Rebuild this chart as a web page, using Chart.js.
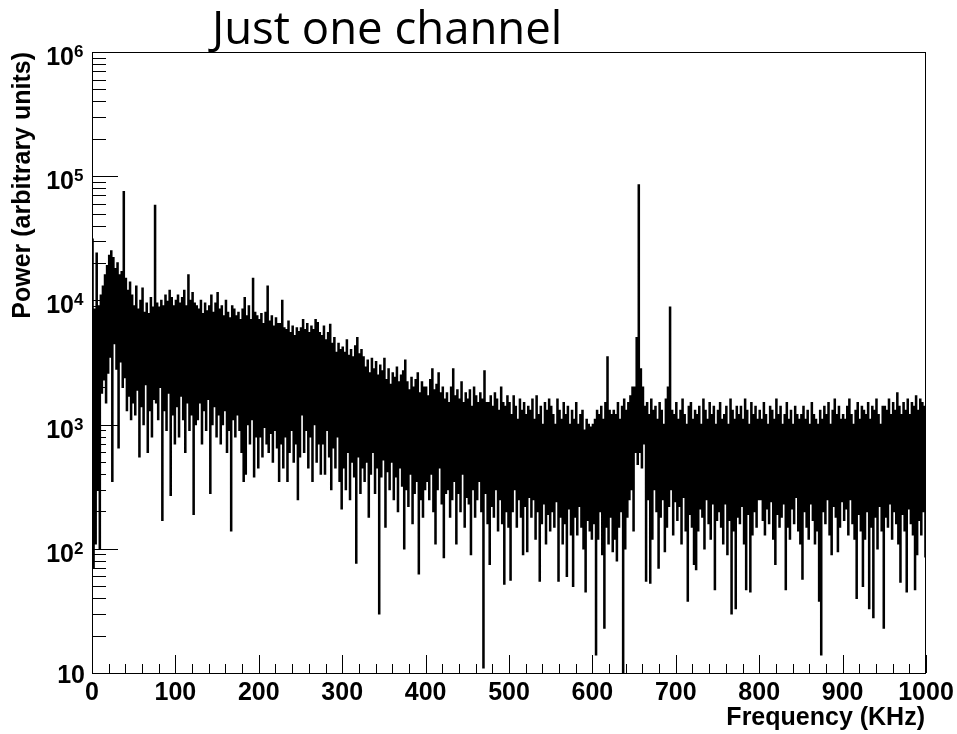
<!DOCTYPE html>
<html>
<head>
<meta charset="utf-8">
<title>Just one channel</title>
<script src="https://cdn.jsdelivr.net/npm/chart.js@4.4.1/dist/chart.umd.min.js"></script>
<style>
  html, body { margin: 0; padding: 0; background: #ffffff; }
  canvas { display: block; }
</style>
</head>
<body>
<canvas id="spectrum" width="957" height="734"></canvas>
<script>
// Spectrum of a single channel: each 2.5 kHz bin keeps the highest and
// lowest power seen inside it (arbitrary units).
const binWidthKHz = 2.5;

const powerHigh = [
  31000, 8500, 24000, 9000, 11000, 13000, 16000, 19000, 23000, 25000,
  22000, 18000, 20000, 16000, 17000, 75000, 15000, 12000, 14000, 11000,
  9000, 13000, 8500, 10000, 12500, 8000, 9500, 7800, 10500, 8800,
  58000, 9500, 8800, 10000, 9000, 11000, 9800, 12000, 10500, 9000,
  10000, 11000, 9500, 10500, 12000, 9000, 16000, 10000, 11500, 9500,
  9000, 8500, 10000, 7800, 9500, 8200, 9000, 11000, 8000, 9500,
  11500, 8500, 9000, 7500, 10000, 8000, 7200, 9000, 8500, 7500,
  8000, 7000, 8500, 10500, 7500, 9000, 7000, 15000, 8000, 7500,
  7000, 7800, 6500, 8000, 13000, 6800, 7500, 6200, 7200, 6500,
  6500, 10000, 6000, 5800, 6800, 5500, 6200, 5200, 6000, 5600,
  6000, 7000, 5800, 6500, 5500, 6200, 5800, 7000, 6600, 5500,
  5200, 6200, 4800, 5500, 6400, 4500, 5000, 3800, 4500, 4000,
  4200, 3800, 4800, 3600, 4000, 3500, 4300, 5000, 3700, 4000,
  3500, 2900, 3300, 2600, 3400, 2800, 3200, 2500, 3000, 2700,
  3400, 2300, 2800, 2100, 2600, 2400, 2900, 2200, 2500, 2700,
  3300, 2200, 1900, 2400, 2000, 2300, 2600, 1800, 2200, 2000,
  2000, 1700, 2300, 2800, 1900, 2100, 2600, 1800, 2000, 1600,
  1800, 1500, 2000, 2800, 1700, 1900, 1600, 2200, 1500, 1800,
  1600, 1900, 1400, 2000, 1700, 1500, 1800, 1600, 2700, 1500,
  1500, 1700, 1400, 1800, 1600, 1300, 2000, 1500, 1400, 1700,
  1500, 1200, 1700, 1400, 1100, 1600, 1300, 1500, 1200, 1400,
  1300, 1600, 1100, 1700, 1200, 1400, 1000, 1500, 1300, 1600,
  1400, 1200, 1000, 1600, 1300, 1100, 1500, 1200, 1400, 1000,
  1300, 1100, 1500, 1000, 1200, 1300, 900, 1100, 1000, 950,
  1000, 1100, 1300, 1200, 1400, 1100, 1500, 3500, 1300, 1200,
  1300, 1200, 1500, 1100, 1400, 1600, 1300, 1500, 1700, 2000,
  2000, 5000, 85000, 2800, 2000, 1400, 1500, 1200, 1600, 1300,
  1400, 1100, 1500, 1300, 1000, 1600, 2000, 8800, 1300, 1200,
  1500, 1100, 1300, 1600, 1200, 1000, 1400, 1500, 1100, 1300,
  1200, 1400, 1000, 1600, 1300, 1100, 1500, 1200, 1400, 1000,
  1300, 1500, 1100, 1200, 1400, 1000, 1600, 1300, 1100, 1400,
  1200, 1400, 1100, 1600, 1300, 1000, 1500, 1200, 1400, 1100,
  1300, 1100, 1500, 1200, 1000, 1400, 1300, 1100, 1600, 1200,
  1400, 1000, 1200, 1500, 1100, 1300, 1000, 1400, 1200, 1100,
  1200, 1400, 1100, 1300, 1000, 1500, 1200, 1100, 1000, 1300,
  1100, 1400, 1200, 1500, 1000, 1300, 1600, 1200, 1400, 1100,
  1200, 1100, 1400, 1600, 1200, 1000, 1300, 1500, 1100, 1400,
  1300, 1200, 1500, 1100, 1400, 1300, 1600, 1200, 1000, 1400,
  1400, 1300, 1600, 1200, 1500, 1300, 1800, 1400, 1200, 1500,
  1300, 1600, 1200, 1500, 1400, 1700, 1300, 1600, 1500, 1400
];

const powerLow = [
  70, 110, 300, 100, 1800, 2300, 1500, 2600, 3500, 350,
  4500, 2800, 650, 3200, 2000, 2400, 1300, 1700, 1100, 1500,
  1200, 1900, 550, 1400, 1000, 2100, 600, 1300, 800, 1600,
  1500, 1100, 2000, 170, 1300, 900, 1800, 270, 1200, 700,
  1400, 800, 1700, 1100, 600, 1500, 900, 1200, 190, 1000,
  1100, 1500, 700, 1300, 900, 1600, 280, 1000, 1400, 800,
  1200, 700, 1000, 1300, 600, 900, 140, 1100, 800, 1200,
  900, 600, 350, 400, 1000, 700, 1100, 380, 800, 450,
  800, 550, 950, 700, 600, 850, 500, 900, 650, 350,
  700, 450, 800, 350, 600, 900, 500, 700, 250, 550,
  1200, 600, 900, 450, 800, 350, 1000, 500, 700, 400,
  700, 400, 900, 550, 300, 650, 450, 800, 350, 210,
  450, 300, 600, 250, 500, 380, 77, 550, 280, 450,
  350, 500, 180, 400, 600, 280, 450, 30, 380, 520,
  150, 420, 300, 500, 250, 380, 200, 450, 320, 100,
  300, 220, 400, 160, 280, 350, 63, 250, 180, 300,
  350, 250, 400, 200, 110, 300, 450, 230, 85, 280,
  300, 180, 250, 350, 110, 280, 200, 400, 150, 260,
  230, 90, 300, 180, 250, 350, 200, 11, 280, 160,
  75, 220, 180, 300, 140, 250, 160, 52, 200, 150,
  56, 200, 300, 150, 250, 180, 90, 220, 95, 260,
  180, 250, 120, 200, 55, 160, 230, 110, 190, 140,
  200, 150, 240, 55, 180, 110, 160, 60, 210, 130,
  50, 180, 130, 220, 150, 100, 45, 170, 140, 120,
  160, 14, 120, 200, 90, 23, 150, 110, 180, 95,
  120, 80, 150, 200, 10, 100, 180, 250, 300, 140,
  600, 480, 600, 450, 700, 55, 250, 53, 120, 300,
  200, 70, 180, 250, 95, 150, 220, 300, 130, 240,
  170, 220, 110, 260, 140, 38, 190, 150, 75, 68,
  140, 210, 180, 100, 250, 160, 120, 230, 47, 170,
  200, 150, 110, 230, 90, 170, 30, 140, 33, 180,
  160, 220, 110, 47, 190, 45, 130, 200, 150, 250,
  250, 170, 130, 210, 160, 240, 120, 75, 190, 150,
  180, 230, 47, 150, 120, 210, 160, 260, 140, 110,
  57, 200, 150, 120, 230, 170, 110, 140, 38, 14,
  200, 160, 250, 130, 90, 220, 180, 95, 150, 240,
  170, 210, 130, 250, 160, 120, 40, 190, 140, 50,
  120, 200, 33, 150, 28, 180, 100, 220, 140, 23,
  180, 150, 230, 120, 200, 160, 110, 54, 190, 140,
  45, 210, 160, 130, 47, 90, 170, 130, 200, 85
];

const xTickLabels = ['0', '100', '200', '300', '400', '500', '600', '700', '800', '900', '1000'];
const yDecadeExponents = [1, 2, 3, 4, 5, 6];

const chartTitle = 'Just one channel';
const xAxisTitle = 'Frequency (KHz)';
const yAxisTitle = 'Power (arbitrary units)';

// Each bin becomes two steps of the histogram outline: its maximum, then its minimum.
const outline = [];
powerHigh.forEach((hi, i) => {
  outline.push({ x: i * binWidthKHz, y: hi });
  outline.push({ x: i * binWidthKHz + binWidthKHz / 2, y: powerLow[i] });
});

const AXIS_FONT = '"Liberation Sans", Arial, Helvetica, sans-serif';

// Frame, inward ticks, tick labels and titles, all placed through the chart scales.
const frameAndAxes = {
  id: 'frameAndAxes',
  afterDraw(chart) {
    const { ctx, chartArea: a, scales } = chart;
    const xs = scales.x, ys = scales.y;
    ctx.save();
    ctx.strokeStyle = '#000';
    ctx.lineWidth = 1;

    ctx.strokeRect(a.left + 0.5, a.top + 0.5, a.right - a.left - 1, a.bottom - a.top);

    ctx.beginPath();
    for (let v = 0; v <= 1000; v += 20) {
      const px = Math.round(xs.getPixelForValue(v)) + 0.5;
      const len = v % 100 === 0 ? 18 : 9;
      ctx.moveTo(px, a.bottom);
      ctx.lineTo(px, a.bottom - len);
    }
    for (let e = 1; e <= 6; e++) {
      for (let m = 1; m <= 9; m++) {
        const v = m * Math.pow(10, e);
        if (v > 1e6) break;
        const py = Math.round(ys.getPixelForValue(v)) + 0.5;
        const len = m === 1 ? 26 : 14;
        ctx.moveTo(a.left, py);
        ctx.lineTo(a.left + len, py);
      }
    }
    ctx.stroke();

    ctx.fillStyle = '#000';
    ctx.font = 'bold 25px ' + AXIS_FONT;
    ctx.textAlign = 'center';
    ctx.textBaseline = 'alphabetic';
    xTickLabels.forEach(lbl => {
      ctx.fillText(lbl, xs.getPixelForValue(Number(lbl)), 700);
    });

    yDecadeExponents.forEach(e => {
      const py = ys.getPixelForValue(Math.pow(10, e));
      ctx.font = 'bold 25px ' + AXIS_FONT;
      ctx.textAlign = 'right';
      if (e === 1) {
        ctx.fillText('10', a.left - 7, py + 10);
      } else {
        ctx.fillText('10', a.left - 18, py + 13);
        ctx.font = 'bold 17px ' + AXIS_FONT;
        ctx.textAlign = 'left';
        ctx.fillText(String(e), a.left - 18, py + 5);
      }
    });

    ctx.font = 'bold 25px ' + AXIS_FONT;
    ctx.textAlign = 'right';
    ctx.fillText(xAxisTitle, a.right - 1, 725);

    ctx.save();
    ctx.translate(23, a.top);
    ctx.rotate(-Math.PI / 2);
    ctx.textAlign = 'right';
    ctx.textBaseline = 'middle';
    ctx.fillText(yAxisTitle, 0, 0);
    ctx.restore();

    // Slide title: sized so that it spans 350 px.
    const titleFont = '"Open Sans", Lato, sans-serif';
    ctx.font = '100px ' + titleFont;
    const w = ctx.measureText(chartTitle).width;
    const size = 100 * 350 / w;
    ctx.font = size.toFixed(1) + 'px ' + titleFont;
    ctx.textAlign = 'left';
    ctx.textBaseline = 'alphabetic';
    ctx.fillText(chartTitle, 212, 44);

    ctx.restore();
  }
};

new Chart(document.getElementById('spectrum'), {
  type: 'line',
  data: {
    datasets: [{
      data: outline,
      borderColor: '#000000',
      borderWidth: 1.5,
      stepped: true,
      pointRadius: 0,
      fill: false,
      tension: 0
    }]
  },
  options: {
    responsive: false,
    animation: false,
    devicePixelRatio: 1,
    layout: { padding: { left: 92, right: 31, top: 52, bottom: 61 } },
    plugins: {
      legend: { display: false },
      tooltip: { enabled: false },
      title: { display: false }
    },
    scales: {
      x: { type: 'linear', min: 0, max: 1000, display: false },
      y: { type: 'logarithmic', min: 10, max: 1e6, display: false }
    }
  },
  plugins: [frameAndAxes]
});
</script>
</body>
</html>
